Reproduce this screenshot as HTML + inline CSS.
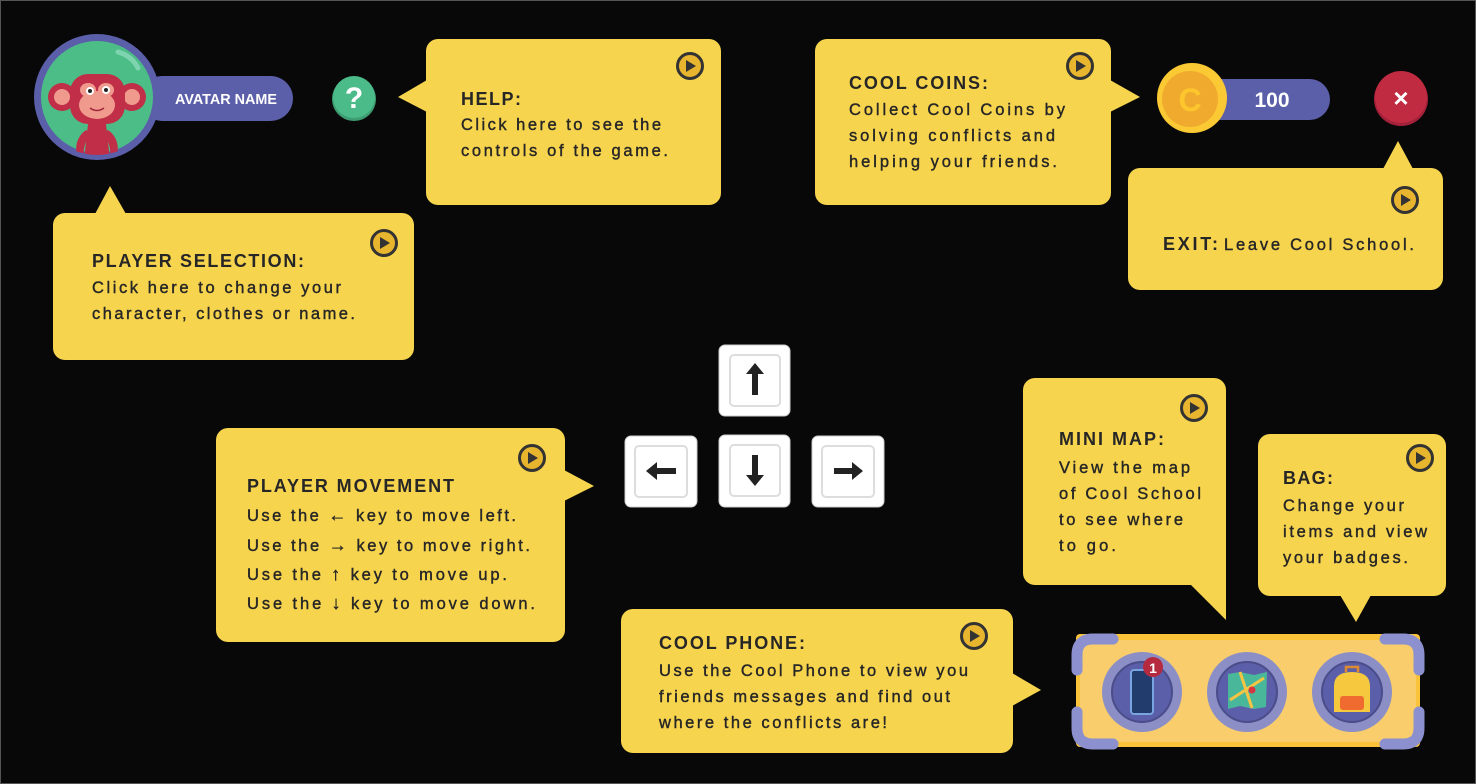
<!DOCTYPE html>
<html><head><meta charset="utf-8"><style>
html,body{margin:0;padding:0;background:#080808;}
svg{display:block;}
.t{font-family:"Liberation Sans",sans-serif;font-weight:bold;font-size:18px;fill:#262626;}
.b{font-family:"Liberation Sans",sans-serif;font-size:16.5px;fill:#262626;stroke:#262626;stroke-width:0.4;}
.ar{font-weight:bold;font-size:18px;}
</style></head><body>
<svg width="1476" height="784" viewBox="0 0 1476 784" xmlns="http://www.w3.org/2000/svg">
<defs>
<g id="play"><circle r="12.5" fill="#e8b52e" stroke="#333" stroke-width="3"/><path d="M-4,-6 L6,0 L-4,6Z" fill="#333"/></g>
<clipPath id="av"><circle cx="97" cy="97" r="58"/></clipPath>
</defs>
<rect x="0.5" y="0.5" width="1475" height="783" fill="#080808" stroke="#555"/>

<g fill="#f7d44e">
<rect x="426" y="39" width="295" height="166" rx="12"/><path d="M427,80 L398,97 L427,112Z"/>
<rect x="815" y="39" width="296" height="166" rx="12"/><path d="M1110,80 L1140,97 L1110,112Z"/>
<rect x="1128" y="168" width="315" height="122" rx="12"/><path d="M1383,169 L1398,141 L1413,169Z"/>
<rect x="53" y="213" width="361" height="147" rx="12"/><path d="M95,214 L110,186 L126,214Z"/>
<rect x="216" y="428" width="349" height="214" rx="12"/><path d="M564,470 L594,486 L564,501Z"/>
<rect x="1023" y="378" width="203" height="207" rx="12"/><path d="M1190,584 L1226,620 L1226,570Z"/>
<rect x="1258" y="434" width="188" height="162" rx="12"/><path d="M1340,595 L1356,622 L1371,595Z"/>
<rect x="621" y="609" width="392" height="144" rx="12"/><path d="M1012,673 L1041,690 L1012,706Z"/>
</g>

<use href="#play" x="690" y="66"/>
<use href="#play" x="1080" y="66"/>
<use href="#play" x="1405" y="200"/>
<use href="#play" x="384" y="243"/>
<use href="#play" x="532" y="458"/>
<use href="#play" x="1194" y="408"/>
<use href="#play" x="1420" y="458"/>
<use href="#play" x="974" y="636"/>

<text class="t" x="461" y="105" textLength="60" lengthAdjust="spacing">HELP:</text>
<text class="b" x="461" y="130" textLength="200" lengthAdjust="spacing">Click here to see the</text>
<text class="b" x="461" y="156" textLength="207" lengthAdjust="spacing">controls of the game.</text>

<text class="t" x="849" y="89" textLength="139" lengthAdjust="spacing">COOL COINS:</text>
<text class="b" x="849" y="115" textLength="216" lengthAdjust="spacing">Collect Cool Coins by</text>
<text class="b" x="849" y="141" textLength="206" lengthAdjust="spacing">solving conflicts and</text>
<text class="b" x="849" y="167" textLength="208" lengthAdjust="spacing">helping your friends.</text>

<text class="t" x="1163" y="250" textLength="55" lengthAdjust="spacing">EXIT:</text>
<text class="b" x="1224" y="250" textLength="190" lengthAdjust="spacing">Leave Cool School.</text>

<text class="t" x="92" y="267" textLength="212" lengthAdjust="spacing">PLAYER SELECTION:</text>
<text class="b" x="92" y="293" textLength="249" lengthAdjust="spacing">Click here to change your</text>
<text class="b" x="92" y="319" textLength="263" lengthAdjust="spacing">character, clothes or name.</text>

<text class="t" x="247" y="492" textLength="207" lengthAdjust="spacing">PLAYER MOVEMENT</text>
<text class="b" x="247" y="521" textLength="269" lengthAdjust="spacing">Use the <tspan class="ar">←</tspan> key to move left.</text>
<text class="b" x="247" y="551" textLength="283" lengthAdjust="spacing">Use the <tspan class="ar">→</tspan> key to move right.</text>
<text class="b" x="247" y="580" textLength="260" lengthAdjust="spacing">Use the <tspan class="ar">↑</tspan> key to move up.</text>
<text class="b" x="247" y="609" textLength="288" lengthAdjust="spacing">Use the <tspan class="ar">↓</tspan> key to move down.</text>

<text class="t" x="1059" y="445" textLength="105" lengthAdjust="spacing">MINI MAP:</text>
<text class="b" x="1059" y="473" textLength="131" lengthAdjust="spacing">View the map</text>
<text class="b" x="1059" y="499" textLength="142" lengthAdjust="spacing">of Cool School</text>
<text class="b" x="1059" y="525" textLength="124" lengthAdjust="spacing">to see where</text>
<text class="b" x="1059" y="551" textLength="57" lengthAdjust="spacing">to go.</text>

<text class="t" x="1283" y="484" textLength="50" lengthAdjust="spacing">BAG:</text>
<text class="b" x="1283" y="511" textLength="121" lengthAdjust="spacing">Change your</text>
<text class="b" x="1283" y="537" textLength="144" lengthAdjust="spacing">items and view</text>
<text class="b" x="1283" y="563" textLength="125" lengthAdjust="spacing">your badges.</text>

<text class="t" x="659" y="649" textLength="146" lengthAdjust="spacing">COOL PHONE:</text>
<text class="b" x="659" y="676" textLength="309" lengthAdjust="spacing">Use the Cool Phone to view you</text>
<text class="b" x="659" y="702" textLength="291" lengthAdjust="spacing">friends messages and find out</text>
<text class="b" x="659" y="728" textLength="228" lengthAdjust="spacing">where the conflicts are!</text>

<!-- avatar -->
<rect x="140" y="76" width="153" height="45" rx="22.5" fill="#5b5ea8"/>
<text x="226" y="104" text-anchor="middle" font-family="Liberation Sans,sans-serif" font-weight="bold" font-size="15" fill="#fff" textLength="102" lengthAdjust="spacingAndGlyphs">AVATAR NAME</text>
<circle cx="97" cy="97" r="63" fill="#5b5ea8"/>
<circle cx="97" cy="97" r="56" fill="#4dbd88"/>
<g clip-path="url(#av)">
<circle cx="62" cy="97" r="14" fill="#c02f47"/><circle cx="132" cy="97" r="14" fill="#c02f47"/>
<circle cx="62" cy="97" r="8" fill="#f09a8e"/><circle cx="132" cy="97" r="8" fill="#f09a8e"/>
<rect x="70" y="74" width="55" height="50" rx="18" fill="#c02f47"/>
<ellipse cx="97" cy="105" rx="18" ry="14" fill="#f09a8e"/>
<ellipse cx="88" cy="90" rx="8" ry="7" fill="#f09a8e"/><ellipse cx="106" cy="90" rx="8" ry="7" fill="#f09a8e"/>
<circle cx="90" cy="91" r="4" fill="#fff"/><circle cx="106" cy="90" r="4" fill="#fff"/>
<circle cx="90" cy="91" r="2" fill="#222"/><circle cx="106" cy="90" r="2" fill="#222"/>
<path d="M90,108 Q97,113 104,108" stroke="#a0263a" stroke-width="1.5" fill="none"/>
<path d="M88,124 L106,124 L110,160 L84,160Z" fill="#c02f47"/>
<path d="M86,130 Q72,140 78,160 L84,160 Q82,142 92,134Z" fill="#c02f47"/>
<path d="M108,130 Q122,140 116,160 L110,160 Q112,142 102,134Z" fill="#c02f47"/>
</g>
<path d="M118,52 Q132,56 138,68" stroke="#7dd4ae" stroke-width="5" fill="none" stroke-linecap="round"/>

<circle cx="354" cy="99" r="22" fill="#3e9c72"/>
<circle cx="354" cy="97" r="21" fill="#4cbb8a"/>
<text x="354" y="108" text-anchor="middle" font-family="Liberation Sans,sans-serif" font-weight="bold" font-size="30" fill="#fff">?</text>

<rect x="1190" y="79" width="140" height="41" rx="20.5" fill="#5b5ea8"/>
<text x="1272" y="107" text-anchor="middle" font-family="Liberation Sans,sans-serif" font-weight="bold" font-size="21" fill="#fff">100</text>
<circle cx="1192" cy="98" r="35" fill="#fbc934"/>
<circle cx="1190" cy="99" r="28" fill="#f0ab2f"/>
<text x="1190" y="111" text-anchor="middle" font-family="Liberation Sans,sans-serif" font-weight="bold" font-size="32" fill="#fcc62c">C</text>

<circle cx="1401" cy="99" r="27" fill="#a3213a"/>
<circle cx="1401" cy="97" r="26" fill="#c12b41"/>
<text x="1401" y="107" text-anchor="middle" font-family="Liberation Sans,sans-serif" font-weight="bold" font-size="26" fill="#fff">×</text>

<g>
<rect x="719" y="345" width="71" height="71" rx="6" fill="#fff" stroke="#ccc"/>
<rect x="730" y="355" width="50" height="51" rx="4" fill="#fff" stroke="#ddd" stroke-width="2"/>
<path d="M755,363 L764,374 L758,374 L758,395 L752,395 L752,374 L746,374Z" fill="#222"/>
<rect x="625" y="436" width="72" height="71" rx="6" fill="#fff" stroke="#ccc"/>
<rect x="635" y="446" width="52" height="51" rx="4" fill="#fff" stroke="#ddd" stroke-width="2"/>
<path d="M646,471 L657,462 L657,468 L676,468 L676,474 L657,474 L657,480Z" fill="#222"/>
<rect x="719" y="435" width="71" height="72" rx="6" fill="#fff" stroke="#ccc"/>
<rect x="730" y="445" width="50" height="51" rx="4" fill="#fff" stroke="#ddd" stroke-width="2"/>
<path d="M755,486 L764,475 L758,475 L758,455 L752,455 L752,475 L746,475Z" fill="#222"/>
<rect x="812" y="436" width="72" height="71" rx="6" fill="#fff" stroke="#ccc"/>
<rect x="822" y="446" width="52" height="51" rx="4" fill="#fff" stroke="#ddd" stroke-width="2"/>
<path d="M863,471 L852,462 L852,468 L834,468 L834,474 L852,474 L852,480Z" fill="#222"/>
</g>

<rect x="1076" y="634" width="344" height="113" rx="4" fill="#fbc33a"/>
<rect x="1080" y="640" width="336" height="102" rx="3" fill="#f9cd6c"/>
<g fill="none" stroke="#8c90cf" stroke-width="11" stroke-linecap="round">
<path d="M1077,670 L1077,655 Q1077,639 1093,639 L1113,639"/>
<path d="M1419,670 L1419,655 Q1419,639 1403,639 L1385,639"/>
<path d="M1077,712 L1077,728 Q1077,744 1093,744 L1113,744"/>
<path d="M1419,712 L1419,728 Q1419,744 1403,744 L1385,744"/>
</g>
<g>
<circle cx="1142" cy="692" r="40" fill="#8b8fc6"/><circle cx="1142" cy="692" r="30" fill="#5b5ea8" stroke="#4a4d8a" stroke-width="2"/>
<rect x="1131" y="670" width="22" height="44" rx="3" fill="#223c6e" stroke="#7aa4e0" stroke-width="2"/>
<circle cx="1153" cy="667" r="10" fill="#b52a3e"/>
<text x="1153" y="673" text-anchor="middle" font-family="Liberation Sans,sans-serif" font-weight="bold" font-size="14" fill="#fff">1</text>
<circle cx="1247" cy="692" r="40" fill="#8b8fc6"/><circle cx="1247" cy="692" r="30" fill="#5b5ea8" stroke="#4a4d8a" stroke-width="2"/>
<path d="M1228,674 L1240,672 L1254,675 L1267,672 L1266,707 L1254,709 L1240,706 L1228,709Z" fill="#49b89a"/>
<path d="M1230,700 L1264,678 M1240,672 L1252,708" stroke="#f5c443" stroke-width="3"/>
<circle cx="1252" cy="690" r="3.5" fill="#d8343f"/>
<circle cx="1352" cy="692" r="40" fill="#8b8fc6"/><circle cx="1352" cy="692" r="30" fill="#5b5ea8" stroke="#4a4d8a" stroke-width="2"/>
<path d="M1334,712 L1334,686 Q1334,672 1352,672 Q1370,672 1370,686 L1370,712Z" fill="#f6c83d"/>
<rect x="1340" y="696" width="24" height="14" rx="3" fill="#ef6b30"/>
<path d="M1346,672 L1346,667 L1358,667 L1358,672" stroke="#e08a2c" stroke-width="2.5" fill="none"/>
</g>
</svg>
</body></html>
